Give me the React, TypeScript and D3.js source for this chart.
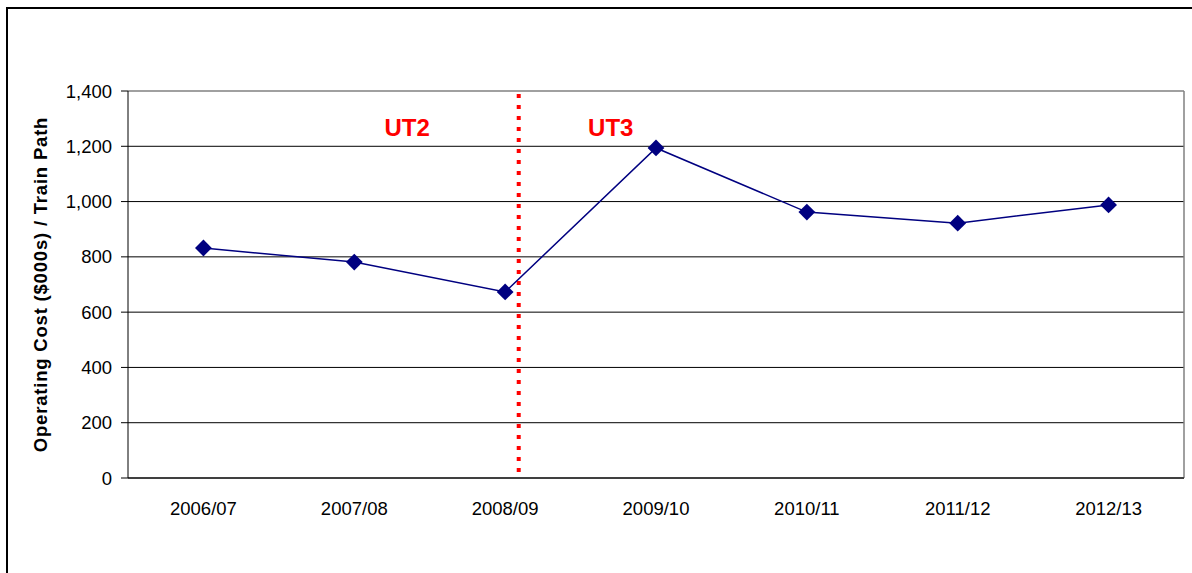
import React from "react";
import * as d3 from "d3";

const categories = ["2006/07", "2007/08", "2008/09", "2009/10", "2010/11", "2011/12", "2012/13"];
const values = [832, 781, 673, 1194, 962, 922, 988];
const yTicks = [0, 200, 400, 600, 800, 1000, 1200, 1400];
const dividerIndex = 2.09;
const periodLabels = [
  { text: "UT2", index: 1.35 },
  { text: "UT3", index: 2.7 },
];
const yTitle = "Operating Cost ($000s) / Train Path";

const W = 1192;
const H = 573;
const m = { left: 128, right: 1184, top: 91, bottom: 478 };

export default function App() {
  const x = d3.scaleBand<string>().domain(categories).range([m.left, m.right]).padding(0);
  const xi = (i: number) => m.left + x.bandwidth() * (i + 0.5);
  const y = d3.scaleLinear().domain([0, 1400]).range([m.bottom, m.top]);
  const line = d3
    .line<number>()
    .x((_, i) => xi(i))
    .y((d) => y(d));
  const diamond = d3.symbol().type(d3.symbolDiamond2).size(180)();
  const fmt = d3.format(",");
  const font = "'Liberation Sans', Arial, sans-serif";

  return (
    <svg
      width={W}
      height={H}
      style={{ position: "absolute", left: 0, top: 0, background: "#fff" }}
      fontFamily={font}
    >
      <rect x={7} y={8} width={W + 20} height={H + 20} fill="#fff" stroke="#000" strokeWidth={2} />
      {yTicks.map((t) => (
        <g key={t}>
          <line
            x1={m.left - 7}
            x2={t === 1400 ? m.left : m.right}
            y1={y(t)}
            y2={y(t)}
            stroke="#000"
            strokeWidth={1}
          />
          <text
            x={112}
            y={y(t)}
            textAnchor="end"
            dominantBaseline="central"
            fontSize={18.5}
            fill="#000"
          >
            {fmt(t)}
          </text>
        </g>
      ))}
      <line x1={m.left} x2={m.right} y1={m.top} y2={m.top} stroke="#808080" strokeWidth={1.5} />
      <line x1={m.right} x2={m.right} y1={m.top} y2={m.bottom} stroke="#808080" strokeWidth={1.5} />
      <line x1={m.left} x2={m.left} y1={m.top} y2={m.bottom} stroke="#000" strokeWidth={1} />
      <line x1={m.left} x2={m.right} y1={m.bottom} y2={m.bottom} stroke="#000" strokeWidth={1} />
      {categories.map((c, i) => (
        <text key={c} x={xi(i)} y={508} textAnchor="middle" dominantBaseline="central" fontSize={18.5} fill="#000">
          {c}
        </text>
      ))}
      <line
        x1={xi(dividerIndex)}
        x2={xi(dividerIndex)}
        y1={m.top + 3}
        y2={m.bottom}
        stroke="#ff0000"
        strokeWidth={4}
        strokeDasharray="4 7"
      />
      {periodLabels.map((p) => (
        <text
          key={p.text}
          x={xi(p.index)}
          y={136}
          textAnchor="middle"
          fontSize={24}
          fontWeight="bold"
          fill="#ff0000"
        >
          {p.text}
        </text>
      ))}
      <path d={line(values) || ""} fill="none" stroke="#000080" strokeWidth={1.5} />
      {values.map((v, i) => (
        <path key={i} d={diamond || ""} transform={`translate(${xi(i)},${y(v)})`} fill="#000080" />
      ))}
      <text
        transform={`translate(40,${(m.top + m.bottom) / 2}) rotate(-90)`}
        textAnchor="middle"
        dominantBaseline="central"
        fontSize={18.5}
        letterSpacing={0.8}
        fontWeight="bold"
        fill="#000"
      >
        {yTitle}
      </text>
    </svg>
  );
}
